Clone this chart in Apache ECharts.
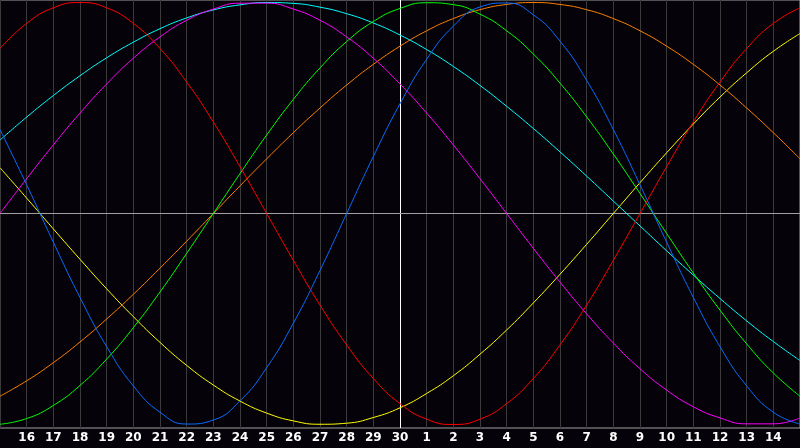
<!DOCTYPE html>
<html>
<head>
<meta charset="utf-8">
<script src="https://cdn.jsdelivr.net/npm/echarts@6/dist/echarts.min.js"></script>
<style>
html,body{margin:0;padding:0;background:#050309;}
#chart{width:800px;height:448px;}
</style>
</head>
<body>
<div id="chart"></div>
<script>
// Day labels: first and last are off the visible label range (edges of plot)
var days = ['15','16','17','18','19','20','21','22','23','24','25','26','27','28','29','30',
            '1','2','3','4','5','6','7','8','9','10','11','12','13','14','15'];
var todayIndex = 15;

var physical = [0.398,0.136,-0.136,-0.398,-0.631,-0.817,-0.942,-0.998,-0.979,-0.888,-0.731,-0.520,-0.270,0,
  0.270,0.520,0.731,0.888,0.979,0.998,0.942,0.817,0.631,0.398,0.136,-0.136,-0.398,-0.631,-0.817,-0.942,-0.998];
var emotional = [0.782,0.901,0.975,1,0.975,0.901,0.782,0.623,0.434,0.222,0,-0.222,-0.434,-0.623,-0.782,-0.901,
  -0.975,-1,-0.975,-0.901,-0.782,-0.623,-0.434,-0.222,0,0.222,0.434,0.623,0.782,0.901,0.975];
var intellectual = [-0.999,-0.972,-0.910,-0.815,-0.690,-0.541,-0.372,-0.189,0,0.189,0.372,0.541,0.690,0.815,0.910,
  0.972,0.999,0.990,0.945,0.866,0.756,0.618,0.458,0.282,0.095,-0.095,-0.282,-0.458,-0.618,-0.756,-0.866];
var intuitive = [0,0.165,0.325,0.476,0.614,0.736,0.837,0.916,0.969,0.997,0.997,0.969,0.916,0.837,0.736,0.614,
  0.476,0.325,0.165,0,-0.165,-0.325,-0.476,-0.614,-0.736,-0.837,-0.916,-0.969,-0.997,-0.997,-0.969];
var aesthetic = [0.217,0.073,-0.073,-0.217,-0.357,-0.489,-0.611,-0.720,-0.813,-0.889,-0.946,-0.983,-0.999,-0.994,
  -0.967,-0.921,-0.853,-0.769,-0.667,-0.552,-0.424,-0.288,-0.146,0,0.146,0.288,0.424,0.552,0.667,0.769,0.853];
var awareness = [-0.866,-0.793,-0.707,-0.609,-0.5,-0.383,-0.259,-0.131,0,0.131,0.259,0.383,0.5,0.609,0.707,0.793,
  0.866,0.924,0.966,0.991,1,0.991,0.966,0.924,0.866,0.793,0.707,0.609,0.5,0.383,0.259];
var spiritual = [0.348,0.457,0.559,0.653,0.738,0.812,0.876,0.927,0.965,0.989,1.000,0.996,0.978,0.947,0.903,0.846,
  0.777,0.697,0.607,0.508,0.403,0.292,0.177,0.059,-0.059,-0.177,-0.292,-0.403,-0.509,-0.607,-0.697];

var seriesDefs = [
  {name:'Aesthetic', data: aesthetic, color:'#ffff00'},
  {name:'Awareness', data: awareness, color:'#ff8000'},
  {name:'Spiritual', data: spiritual, color:'#00ffff'},
  {name:'Intuitive', data: intuitive, color:'#ff00ff'},
  {name:'Intellectual', data: intellectual, color:'#00ff00'},
  {name:'Emotional', data: emotional, color:'#ff0000'},
  {name:'Physical', data: physical, color:'#0a6cff'}
];

var gridColors = days.map(function(d,i){ return i === todayIndex ? '#ffffff' : '#3a3a3a'; });

var chart = echarts.init(document.getElementById('chart'), null, {renderer:'canvas'});
chart.setOption({
  backgroundColor: '#050309',
  animation: false,
  grid: {left: 0, right: 0, top: 0, bottom: 20, show: true, borderColor: '#a0a0a0', borderWidth: 1, backgroundColor: 'transparent'},
  xAxis: {
    type: 'category',
    data: days,
    boundaryGap: false,
    axisLine: {show: true, lineStyle: {color: '#a0a0a0', width: 1}},
    axisTick: {show: false},
    axisLabel: {
      color: '#ffffff', fontWeight: 'bold', fontSize: 12, fontFamily: 'DejaVu Sans', margin: 4,
      interval: function(i){ return i > 0 && i < days.length - 1; }
    },
    splitLine: {show: true, interval: 0, lineStyle: {color: gridColors, width: 1}}
  },
  yAxis: {
    type: 'value',
    min: -1.01674, max: 1.012, interval: 1.01674,
    axisLine: {show: false}, axisTick: {show: false}, axisLabel: {show: false},
    splitLine: {show: true, showMinLine: false, showMaxLine: false, lineStyle: {color: '#ffffff', width: 1}}
  },
  series: seriesDefs.map(function(s){
    return {
      name: s.name, type: 'line', data: s.data, smooth: true, symbol: 'none',
      lineStyle: {color: s.color, width: 1}, itemStyle: {color: s.color}
    };
  })
});
</script>
</body>
</html>
